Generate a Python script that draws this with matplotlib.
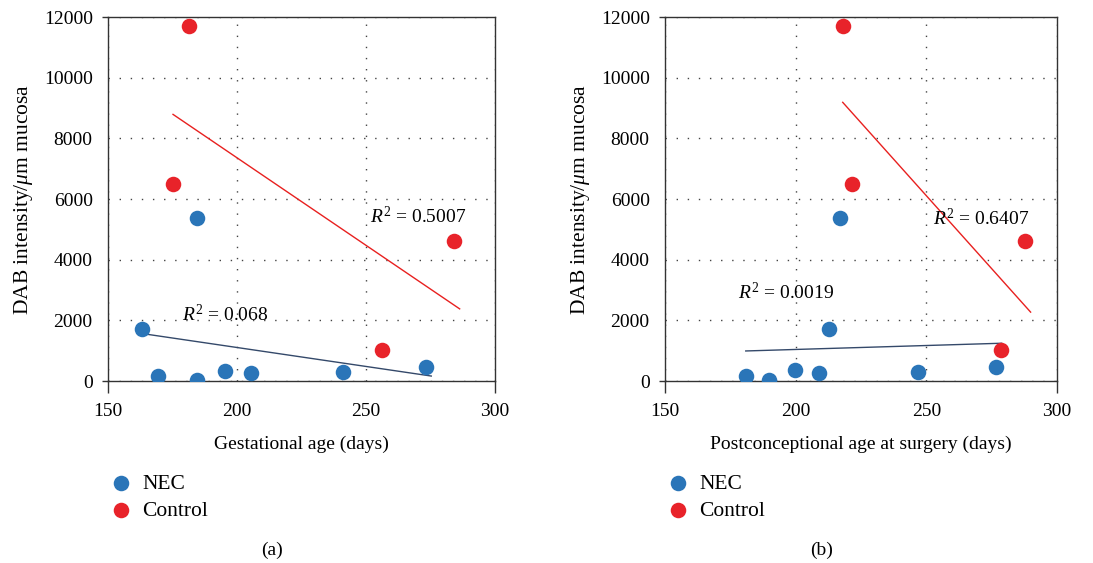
import matplotlib
matplotlib.use("Agg")
import matplotlib.pyplot as plt
import numpy as np

# panel (a): gestational age
nec_ga = [163.3, 169.3, 184.4, 184.4, 195.3, 205.3, 241.2, 273.3]
nec_dab_a = [1700, 170, 20, 5370, 340, 270, 290, 470]
ctl_ga = [181.3, 175.2, 256.3, 284.3]
ctl_dab_a = [11700, 6500, 1030, 4600]

# panel (b): postconceptional age at surgery
nec_pca = [180.9, 189.8, 199.9, 208.9, 212.8, 217.1, 246.9, 276.8]
nec_dab_b = [175, 30, 350, 280, 1700, 5370, 290, 470]
ctl_pca = [218.0, 221.7, 278.7, 287.9]
ctl_dab_b = [11700, 6500, 1030, 4600]

r2_labels_a = ["0.068", "0.5007"]
r2_labels_b = ["0.0019", "0.6407"]

BLUE = "#2a75b8"
RED = "#e8232a"
FIT_BLUE = "#34496a"
FIT_RED = "#e8201f"

plt.rcParams.update({
    "font.family": "Liberation Serif",
    "font.size": 14,
    "mathtext.fontset": "custom",
    "mathtext.rm": "Liberation Serif",
    "mathtext.it": "Liberation Serif:italic",
})

fig = plt.figure(figsize=(10.93, 5.63), dpi=100)
ax_a = fig.add_axes([108 / 1093, 1 - 381 / 563, 387 / 1093, 364 / 563])
ax_b = fig.add_axes([665 / 1093, 1 - 381 / 563, 392 / 1093, 364 / 563])


def fit_line(ax, x, y, color):
    x = np.asarray(x)
    k, b = np.polyfit(x, y, 1)
    xs = np.array([x.min(), x.max() + 2])
    ax.plot(xs, k * xs + b, color=color, lw=1.0, zorder=2)


def panel(ax, nx, ny, cx, cy, xlabel, r2, r2_pos, tag, tag_x):
    fit_line(ax, nx, ny, FIT_BLUE)
    fit_line(ax, cx, cy, FIT_RED)
    ax.scatter(nx, ny, s=125, color=BLUE, lw=0, zorder=3, label="NEC")
    ax.scatter(cx, cy, s=125, color=RED, lw=0, zorder=3, label="Control")

    ax.set_xlim(150, 300)
    ax.set_ylim(0, 12000)
    ax.set_xticks([150, 200, 250, 300])
    ax.set_yticks(range(0, 12001, 2000))
    ax.xaxis.remove_overlapping_locs = False
    ax.yaxis.remove_overlapping_locs = False
    ax.set_xticks([150, 300], minor=True)
    ax.set_yticks([0, 12000], minor=True)
    ax.tick_params(which="major", length=0)
    ax.tick_params(axis="x", which="major", pad=16)
    ax.tick_params(axis="y", which="major", pad=11)
    ax.tick_params(axis="x", which="minor", length=8.5, width=1, direction="out", color="#333333")
    ax.tick_params(axis="y", which="minor", length=4, width=1, direction="out", color="#333333")
    ax.grid(True, which="major", color="#444444", lw=1.0, ls=(0, (1, 7)))
    for sp in ax.spines.values():
        sp.set_color("#333333")
        sp.set_linewidth(1.0)

    ax.set_xlabel(xlabel, labelpad=11)
    ax.set_ylabel(r"DAB intensity/$\mu$m mucosa", fontsize=15.5, labelpad=6)

    ax.text(r2_pos[0][0], r2_pos[0][1], r"$R^2$ = " + r2[0], fontsize=14, va="center")
    ax.text(r2_pos[1][0], r2_pos[1][1], r"$R^2$ = " + r2[1], fontsize=14, va="center")

    ax.legend(loc="upper left", bbox_to_anchor=(0.0, -0.254), frameon=False,
              handletextpad=0.4, labelspacing=0.35, borderaxespad=0, borderpad=0,
              handlelength=1.2, fontsize=15.5)
    fig.text(tag_x / 1093, 1 - 550 / 563, tag, ha="center", va="center", fontsize=14)


panel(ax_a, nec_ga, nec_dab_a, ctl_ga, ctl_dab_a, "Gestational age (days)",
      r2_labels_a, [(178.6, 2176), (251.6, 5411)], "(a)", 272)
panel(ax_b, nec_pca, nec_dab_b, ctl_pca, ctl_dab_b,
      "Postconceptional age at surgery (days)",
      r2_labels_b, [(178.0, 2910), (252.6, 5350)], "(b)", 822)

fig.savefig("out.png", dpi=100)
